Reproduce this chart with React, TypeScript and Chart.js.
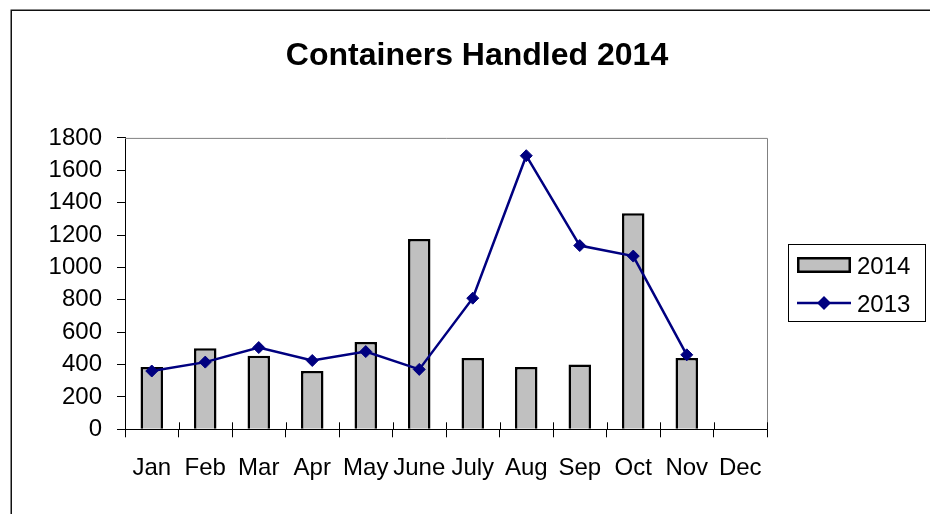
import React, { useEffect, useRef } from "react";
import { Chart, registerables } from "chart.js";

Chart.register(...registerables);

const months = ["Jan", "Feb", "Mar", "Apr", "May", "June", "July", "Aug", "Sep", "Oct", "Nov", "Dec"];
const series2014 = [385, 500, 455, 360, 540, 1175, 440, 385, 400, 1335, 440, null];
const series2013 = [360, 415, 505, 425, 480, 370, 810, 1690, 1135, 1070, 460, null];
const titleText = "Containers Handled 2014";
const yMin = 0;
const yMax = 1800;
const yStep = 200;

const FONT = '"Liberation Sans", Arial, sans-serif';
const NAVY = "#000080";
const BAR_FILL = "#C0C0C0";

const framePlugin = {
  id: "frameAndExtras",
  afterDraw(chart: any) {
    const ctx = chart.ctx;
    const area = chart.chartArea;
    const xs = chart.scales.x;
    ctx.save();
    // outer frame
    ctx.strokeStyle = "#111";
    ctx.lineWidth = 1.5;
    ctx.strokeRect(11.25, 10.25, 2000, 2000);
    // plot area top & right border
    ctx.strokeStyle = "#808080";
    ctx.lineWidth = 1;
    ctx.beginPath();
    ctx.moveTo(area.left, area.top + 0.5);
    ctx.lineTo(area.right + 0.5, area.top + 0.5);
    ctx.lineTo(area.right + 0.5, area.bottom);
    ctx.stroke();
    // x ticks crossing above axis
    ctx.strokeStyle = "#000";
    ctx.lineWidth = 1;
    ctx.beginPath();
    for (let i = 0; i <= months.length; i++) {
      const px = Math.round(xs.getPixelForValue(i - 0.5)) + 0.5;
      ctx.moveTo(px, area.bottom - 7);
      ctx.lineTo(px, area.bottom);
    }
    ctx.stroke();

    // legend
    const ds = chart.data.datasets;
    ctx.strokeStyle = "#000";
    ctx.lineWidth = 1;
    ctx.strokeRect(788.5, 244.5, 137, 77);
    ctx.font = `24px ${FONT}`;
    ctx.textBaseline = "middle";
    ctx.textAlign = "left";
    // bar item
    ctx.fillStyle = ds[0].backgroundColor;
    ctx.fillRect(797, 257, 54, 16);
    ctx.strokeStyle = ds[0].borderColor;
    ctx.lineWidth = 2.5;
    ctx.strokeRect(798.25, 258.25, 51.5, 13.5);
    ctx.fillStyle = "#000";
    ctx.fillText(ds[0].label, 857, 267);
    // line item
    ctx.strokeStyle = ds[1].borderColor;
    ctx.lineWidth = 2.5;
    ctx.beginPath();
    ctx.moveTo(797, 303);
    ctx.lineTo(851, 303);
    ctx.stroke();
    ctx.fillStyle = ds[1].pointBackgroundColor;
    ctx.beginPath();
    const cx = 824, cy = 303, r = 7;
    ctx.moveTo(cx - r, cy);
    ctx.lineTo(cx, cy - r);
    ctx.lineTo(cx + r, cy);
    ctx.lineTo(cx, cy + r);
    ctx.closePath();
    ctx.fill();
    ctx.fillStyle = "#000";
    ctx.fillText(ds[1].label, 857, 305);
    ctx.restore();
  },
};

export default function App() {
  const ref = useRef<HTMLCanvasElement>(null);
  useEffect(() => {
    if (!ref.current) return;
    const chart = new Chart(ref.current, {
      type: "bar",
      data: {
        labels: months,
        datasets: [
          {
            type: "bar",
            label: "2014",
            data: series2014 as any,
            backgroundColor: BAR_FILL,
            borderColor: "#000",
            borderWidth: 2.5,
            barPercentage: 0.42,
            categoryPercentage: 1,
            order: 1,
          },
          {
            type: "line",
            label: "2013",
            data: series2013 as any,
            borderColor: NAVY,
            backgroundColor: NAVY,
            borderWidth: 2.5,
            pointStyle: "rectRot",
            pointRadius: 6,
            pointBorderWidth: 1,
            pointBackgroundColor: NAVY,
            pointBorderColor: NAVY,
            tension: 0,
            spanGaps: false,
            order: 0,
          } as any,
        ],
      },
      plugins: [framePlugin],
      options: {
        responsive: false,
        animation: false,
        events: [],
        layout: { padding: { left: 48, right: 24, top: 10, bottom: 0 } },
        plugins: {
          legend: { display: false },
          tooltip: { enabled: false },
          title: {
            display: true,
            text: titleText,
            color: "#000",
            font: { family: FONT, size: 32, weight: "bold" },
            padding: { top: 26.5, bottom: 63 },
          },
        },
        scales: {
          x: {
            offset: true,
            grid: {
              offset: true,
              drawOnChartArea: false,
              drawTicks: true,
              tickLength: 8,
              color: "#000",
              lineWidth: 1,
            },
            border: { display: true, color: "#000", width: 1 },
            ticks: {
              color: "#000",
              font: { family: FONT, size: 24 },
              padding: 17,
              maxRotation: 0,
              autoSkip: false,
            },
            afterFit: (s: any) => {
              s.height = 84.7;
            },
          },
          y: {
            min: yMin,
            max: yMax,
            grid: {
              drawOnChartArea: false,
              drawTicks: true,
              tickLength: 8,
              color: "#000",
              lineWidth: 1,
            },
            border: { display: true, color: "#000", width: 1 },
            ticks: {
              stepSize: yStep,
              color: "#000",
              font: { family: FONT, size: 24 },
              padding: 15,
              callback: (v: any) => String(v),
            },
            afterFit: (s: any) => {
              s.width = 77;
            },
          },
          y2: {
            position: "right",
            display: true,
            grid: { display: false, drawTicks: false },
            border: { display: false },
            ticks: { display: false },
            afterFit: (s: any) => {
              s.width = 139;
            },
          },
        },
      },
    });
    return () => chart.destroy();
  }, []);
  return (
    <div style={{ position: "absolute", left: 0, top: 0, width: 930, height: 514, background: "#fff" }}>
      <canvas ref={ref} width={930} height={514} />
    </div>
  );
}
